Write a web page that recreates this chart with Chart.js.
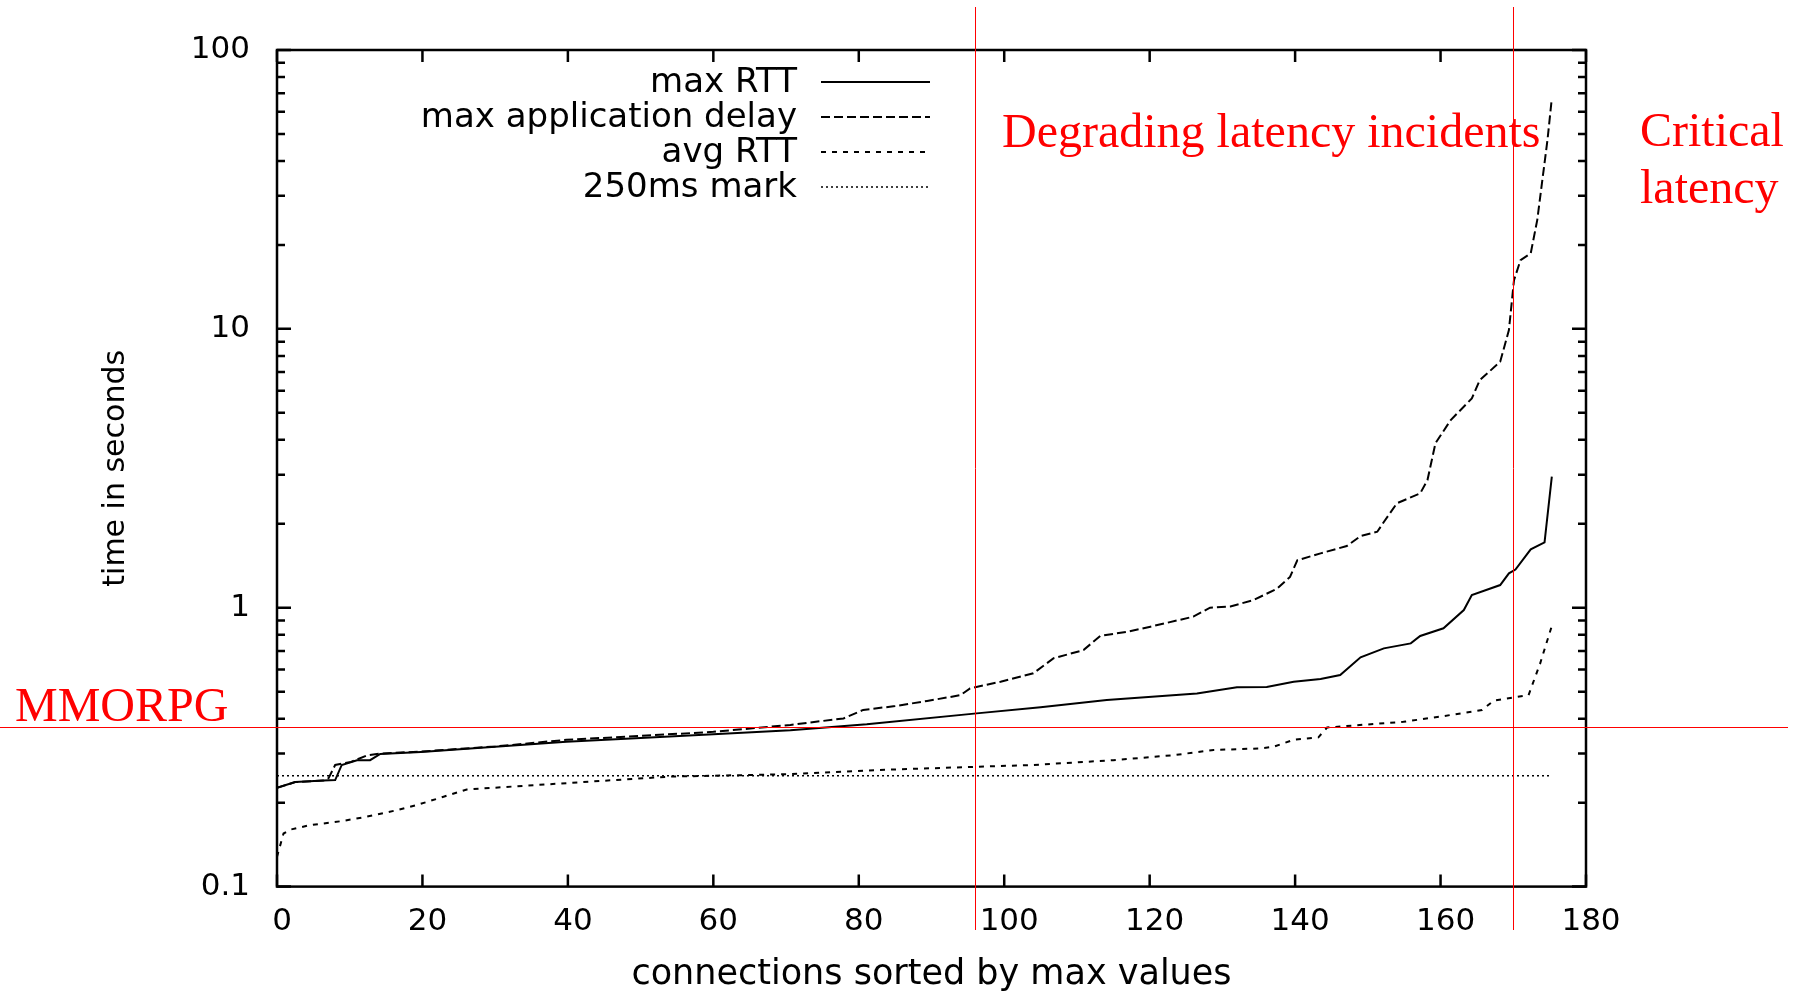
<!DOCTYPE html>
<html lang="en">
<head>
<meta charset="UTF-8">
<title>time in seconds</title>
<script src="https://cdn.jsdelivr.net/npm/chart.js@4.4.0/dist/chart.umd.min.js"></script>
<style>
  body { margin: 0; background: #ffffff; }
  canvas { display: block; }
</style>
</head>
<body>
<canvas id="graficoLatencia" width="1800" height="992"></canvas>
<script>
// Valores (conexões ordenadas pelo valor máximo)
const xMaxRtt = [0, 1.1, 2.5, 6.4, 8.0, 8.9, 11.0, 12.8, 14.2, 19.8, 30, 39.8, 50, 60, 70.6, 81.1, 96.2, 105, 114.1, 126.5,
  132, 136.1, 139.8, 143.5, 146.2, 149, 152.2, 155.9, 157.2, 160.4, 163.2, 164.3, 168.2, 169.4, 170.3, 172.4, 174.3, 175.3];
const maxRtt = [0.226, 0.231, 0.237, 0.240, 0.241, 0.273, 0.284, 0.284, 0.299, 0.304, 0.317, 0.331, 0.341, 0.352, 0.364, 0.382, 0.418, 0.44, 0.467, 0.493,
  0.519, 0.52, 0.543, 0.555, 0.574, 0.664, 0.715, 0.745, 0.792, 0.844, 0.981, 1.11, 1.206, 1.328, 1.37, 1.62, 1.716, 2.95];

const xMaxApp = [0, 2.5, 6.4, 7.1, 8.0, 10.2, 12.3, 14.2, 19.8, 30, 39.8, 50, 60, 70.6, 77.9, 80.6, 85, 89.4, 94, 95.3,
  99.5, 104, 106.8, 110.9, 113.2, 116.9, 120.1, 126, 128.3, 131.1, 134.3, 137.5, 139.3, 140.3, 143.5, 147.1, 149, 151.3, 152.2, 154,
  157.2, 158.2, 159.3, 161.4, 164.3, 165.4, 168.2, 169.4, 170.1, 171, 172.4, 173.3, 174, 174.7, 175.3];
const maxApp = [0.226, 0.237, 0.240, 0.245, 0.273, 0.28, 0.295, 0.30, 0.305, 0.318, 0.336, 0.347, 0.359, 0.38, 0.401, 0.43, 0.444, 0.463, 0.486, 0.514,
  0.543, 0.582, 0.659, 0.705, 0.792, 0.82, 0.855, 0.929, 1.0, 1.01, 1.066, 1.17, 1.29, 1.48, 1.567, 1.664, 1.807, 1.873, 2.03, 2.37,
  2.57, 2.87, 3.89, 4.71, 5.63, 6.55, 7.62, 9.9, 14.96, 17.65, 18.66, 24.6, 34.2, 47.5, 67.1];

const xAvgRtt = [0, 0.9, 1.8, 4.5, 9.1, 12.3, 16.5, 19.2, 22.9, 26.1, 39.8, 54, 70.6, 82.9, 96.2, 104, 115, 123.3, 128.8, 135.2,
  137, 139.8, 143.2, 144.4, 154.9, 160, 165.7, 167.3, 172.1, 173.7, 175.3];
const avgRtt = [0.128, 0.155, 0.16, 0.166, 0.172, 0.178, 0.188, 0.196, 0.21, 0.223, 0.235, 0.248, 0.253, 0.262, 0.269, 0.273, 0.284, 0.296, 0.309, 0.313,
  0.317, 0.336, 0.343, 0.372, 0.39, 0.407, 0.43, 0.464, 0.486, 0.632, 0.86];

const xMarca = [0, 175.3];
const marca250 = [0.25, 0.25];

const legendas = ['max RTT', 'max application delay', 'avg RTT', '250ms mark'];
const ticksY = [0.1, 1, 10, 100];

// Linhas de referência em vermelho
const limitesX = [96, 170];
const limiteMmorpg = 0.372;

function pontos(xs, ys) {
  return xs.map((x, i) => ({ x: x, y: ys[i] }));
}

// Moldura, ticks para dentro, legenda e anotações
const molduraPlugin = {
  id: 'moldura',
  afterDraw(chart) {
    const ctx = chart.ctx;
    const area = chart.chartArea;
    const escalaX = chart.scales.x;
    const escalaY = chart.scales.y;

    ctx.save();
    ctx.strokeStyle = '#000000';
    ctx.lineWidth = 2.5;
    ctx.strokeRect(area.left, area.top, area.right - area.left, area.bottom - area.top);

    ctx.beginPath();
    escalaX.ticks.forEach(t => {
      const px = escalaX.getPixelForValue(t.value);
      ctx.moveTo(px, area.bottom);
      ctx.lineTo(px, area.bottom - 12);
      ctx.moveTo(px, area.top);
      ctx.lineTo(px, area.top + 12);
    });
    for (let i = 0; i < ticksY.length; i++) {
      const py = escalaY.getPixelForValue(ticksY[i]);
      ctx.moveTo(area.left, py);
      ctx.lineTo(area.left + 14, py);
      ctx.moveTo(area.right, py);
      ctx.lineTo(area.right - 14, py);
      if (i < ticksY.length - 1) {
        for (let k = 2; k <= 9; k++) {
          const pm = escalaY.getPixelForValue(k * ticksY[i]);
          ctx.moveTo(area.left, pm);
          ctx.lineTo(area.left + 8, pm);
          ctx.moveTo(area.right, pm);
          ctx.lineTo(area.right - 8, pm);
        }
      }
    }
    ctx.stroke();

    // legenda no canto superior
    ctx.font = '34px "DejaVu Sans"';
    ctx.textAlign = 'right';
    ctx.textBaseline = 'middle';
    ctx.fillStyle = '#000000';
    chart.data.datasets.forEach((ds, i) => {
      const y = 82 + i * 35;
      ctx.fillText(ds.label, 797, y + 1);
      ctx.beginPath();
      ctx.lineWidth = ds.borderWidth;
      ctx.setLineDash(ds.borderDash || []);
      ctx.moveTo(821, y);
      ctx.lineTo(930, y);
      ctx.stroke();
    });
    ctx.setLineDash([]);

    // linhas vermelhas
    ctx.strokeStyle = '#ff0000';
    ctx.lineWidth = 1;
    ctx.beginPath();
    limitesX.forEach(v => {
      const px = Math.round(escalaX.getPixelForValue(v)) + 0.5;
      ctx.moveTo(px, 7);
      ctx.lineTo(px, 930);
    });
    const pyM = Math.round(escalaY.getPixelForValue(limiteMmorpg)) + 0.5;
    ctx.moveTo(0, pyM);
    ctx.lineTo(1788, pyM);
    ctx.stroke();

    ctx.fillStyle = '#ff0000';
    ctx.font = '48px "Liberation Serif"';
    ctx.textAlign = 'left';
    ctx.textBaseline = 'alphabetic';
    ctx.fillText('Degrading latency incidents', 1002, 147);
    ctx.fillText('Critical', 1640, 146);
    ctx.fillText('latency', 1640, 203);
    ctx.fillText('MMORPG', 15, 721);
    ctx.restore();
  }
};

const ctx = document.getElementById('graficoLatencia').getContext('2d');

const config = {
  type: 'line',
  data: {
    datasets: [{
      label: legendas[0],
      data: pontos(xMaxRtt, maxRtt),
      borderColor: '#000000',
      borderWidth: 2,
      borderDash: []
    }, {
      label: legendas[1],
      data: pontos(xMaxApp, maxApp),
      borderColor: '#000000',
      borderWidth: 2,
      borderDash: [9, 4]
    }, {
      label: legendas[2],
      data: pontos(xAvgRtt, avgRtt),
      borderColor: '#000000',
      borderWidth: 2,
      borderDash: [5, 6]
    }, {
      label: legendas[3],
      data: pontos(xMarca, marca250),
      borderColor: '#000000',
      borderWidth: 1.5,
      borderDash: [2, 3]
    }]
  },
  options: {
    responsive: false,
    animation: false,
    devicePixelRatio: 1,
    elements: {
      point: { radius: 0 },
      line: { tension: 0, fill: false }
    },
    layout: { padding: { left: 0, right: 214, top: 50, bottom: 0 } },
    plugins: {
      legend: { display: false },
      tooltip: { enabled: false }
    },
    scales: {
      x: {
        type: 'linear',
        min: 0,
        max: 180,
        ticks: {
          stepSize: 20,
          color: '#000000',
          font: { family: 'DejaVu Sans', size: 31 },
          padding: 17,
          labelOffset: 5,
          maxRotation: 0
        },
        grid: { display: false, drawTicks: false },
        border: { display: false },
        title: {
          display: true,
          text: 'connections sorted by max values',
          color: '#000000',
          font: { family: 'DejaVu Sans', size: 35, lineHeight: 1 },
          padding: { top: 0, bottom: 0 }
        },
        afterFit(scale) { scale.height = 105.4; }
      },
      y: {
        type: 'logarithmic',
        min: 0.1,
        max: 100,
        ticks: {
          autoSkip: false,
          color: '#000000',
          font: { family: 'DejaVu Sans', size: 31 },
          padding: 27,
          callback: function (value) {
            const achado = ticksY.find(t => Math.abs(t - value) < t * 1e-6);
            return achado !== undefined ? String(achado) : '';
          }
        },
        grid: { display: false, drawTicks: false },
        border: { display: false },
        title: {
          display: true,
          text: 'time in seconds',
          color: '#000000',
          font: { family: 'DejaVu Sans', size: 30 },
          padding: { top: 98, bottom: 0 }
        },
        afterFit(scale) { scale.width = 277; }
      }
    }
  },
  plugins: [molduraPlugin]
};

const grafico = new Chart(ctx, config);
</script>
</body>
</html>
